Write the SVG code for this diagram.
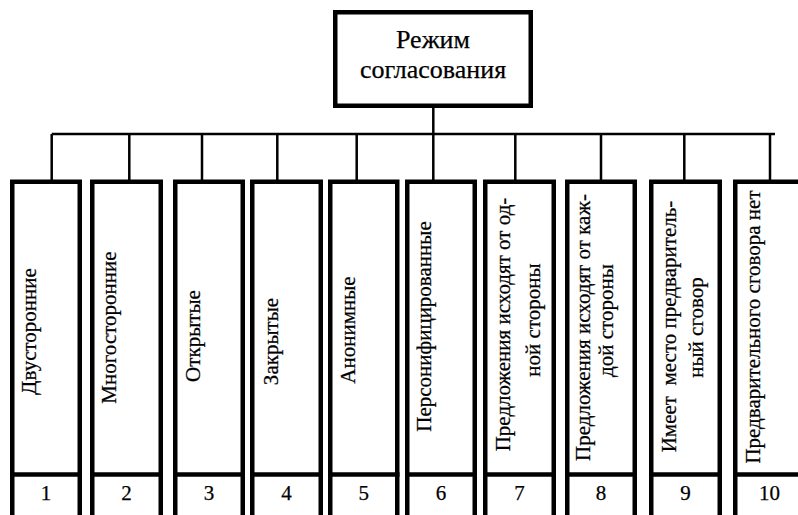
<svg xmlns="http://www.w3.org/2000/svg" width="798" height="515" viewBox="0 0 798 515">
  <style>
    .box { fill: #fff; stroke: #000; stroke-width: 4.5; }
    .div { stroke: #000; stroke-width: 4.5; }
    .wire { fill: none; stroke: #000; stroke-width: 2.5; }
    text { font-family: "Liberation Serif", "Times New Roman", serif; fill: #000; stroke: #000; stroke-width: 0.25; }
    .head { font-size: 26px; text-anchor: middle; }
    .lbl { font-size: 21px; text-anchor: middle; }
    .num { font-size: 21px; text-anchor: middle; }
  </style>
  <rect width="798" height="515" fill="#fff"/>

  <!-- connectors: trunk, bus and drops -->
  <g id="connectors" class="wire">
    <path d="M433.3 108 V134"/>
    <path d="M51.7 134 H775"/>
    <path d="M51.7 134 V180 M129.3 134 V180 M202 134 V180 M277.3 134 V180 M356.7 134 V180 M433.3 134 V180 M515.3 134 V180 M601 134 V180 M684.3 134 V180 M770 134 V180"/>
  </g>

  <!-- root -->
  <g id="root">
    <rect class="box" x="335.25" y="12.25" width="195.5" height="93.5"/>
    <text class="head" x="433" y="47.7">Режим</text>
    <text class="head" x="433" y="78.3">согласования</text>
  </g>

  <!-- leaves -->
  <g id="n1">
    <rect class="box" x="12.25" y="181.75" width="67.5" height="350"/>
    <line class="div" x1="10" y1="474.5" x2="82" y2="474.5"/>
    <text class="lbl" transform="translate(36,331.5) rotate(-90)">Двусторонние</text>
    <text class="num" x="46" y="500">1</text>
  </g>
  <g id="n2">
    <rect class="box" x="92.25" y="181.75" width="68.5" height="350"/>
    <line class="div" x1="90" y1="474.5" x2="163" y2="474.5"/>
    <text class="lbl" transform="translate(116,327.5) rotate(-90)">Многосторонние</text>
    <text class="num" x="126.5" y="500">2</text>
  </g>
  <g id="n3">
    <rect class="box" x="175.25" y="181.75" width="67.5" height="350"/>
    <line class="div" x1="173" y1="474.5" x2="245" y2="474.5"/>
    <text class="lbl" transform="translate(200,336) rotate(-90)">Открытые</text>
    <text class="num" x="209" y="500">3</text>
  </g>
  <g id="n4">
    <rect class="box" x="252.25" y="181.75" width="68.5" height="350"/>
    <line class="div" x1="250" y1="474.5" x2="323" y2="474.5"/>
    <text class="lbl" transform="translate(278,341.5) rotate(-90)">Закрытые</text>
    <text class="num" x="286.5" y="500">4</text>
  </g>
  <g id="n5">
    <rect class="box" x="330.25" y="181.75" width="67" height="350"/>
    <line class="div" x1="328" y1="474.5" x2="399.5" y2="474.5"/>
    <text class="lbl" transform="translate(355,330) rotate(-90)">Анонимные</text>
    <text class="num" x="363.75" y="500">5</text>
  </g>
  <g id="n6">
    <rect class="box" x="407.25" y="181.75" width="67.5" height="350"/>
    <line class="div" x1="405" y1="474.5" x2="477" y2="474.5"/>
    <text class="lbl" transform="translate(431,326.5) rotate(-90)">Персонифицированные</text>
    <text class="num" x="441" y="500">6</text>
  </g>
  <g id="n7">
    <rect class="box" x="485.25" y="181.75" width="68.5" height="350"/>
    <line class="div" x1="483" y1="474.5" x2="556" y2="474.5"/>
    <text class="lbl" transform="translate(510,324.5) rotate(-90)">Предложения исходят от од-</text>
    <text class="lbl" transform="translate(540,320) rotate(-90)">ной стороны</text>
    <text class="num" x="519.5" y="500">7</text>
  </g>
  <g id="n8">
    <rect class="box" x="567.25" y="181.75" width="67.5" height="350"/>
    <line class="div" x1="565" y1="474.5" x2="637" y2="474.5"/>
    <text class="lbl" transform="translate(590,327.5) rotate(-90)">Предложения исходят от каж-</text>
    <text class="lbl" transform="translate(612.5,320.5) rotate(-90)">дой стороны</text>
    <text class="num" x="601" y="500">8</text>
  </g>
  <g id="n9">
    <rect class="box" x="651.25" y="181.75" width="68.5" height="350"/>
    <line class="div" x1="649" y1="474.5" x2="722" y2="474.5"/>
    <text class="lbl" transform="translate(676,326.5) rotate(-90)" xml:space="preserve">Имеет  место предваритель-</text>
    <text class="lbl" transform="translate(702.5,327.5) rotate(-90)">ный сговор</text>
    <text class="num" x="685.5" y="500">9</text>
  </g>
  <g id="n10">
    <rect class="box" x="735.25" y="181.75" width="67.5" height="350"/>
    <line class="div" x1="733" y1="474.5" x2="805" y2="474.5"/>
    <text class="lbl" transform="translate(760,327) rotate(-90)">Предварительного сговора нет</text>
    <text class="num" x="769.5" y="500">10</text>
  </g>
</svg>
